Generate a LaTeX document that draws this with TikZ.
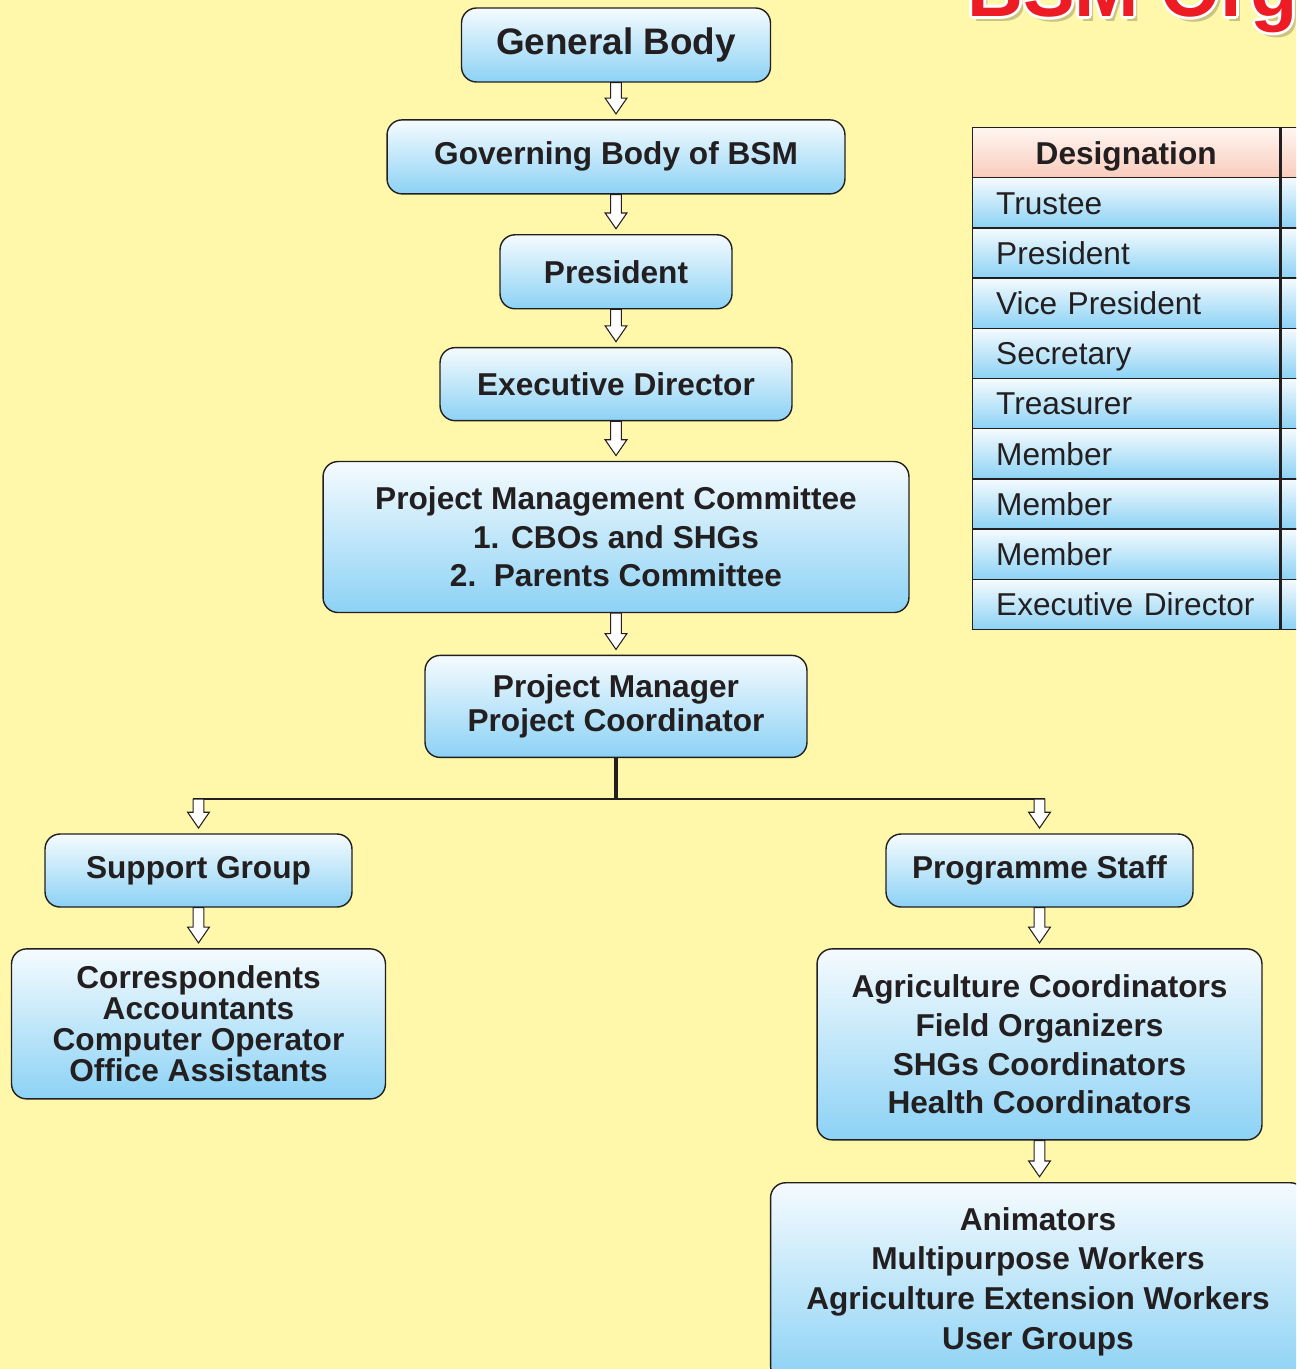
\documentclass[tikz,border=0pt]{standalone}
\usepackage{fontspec}
\setmainfont{Liberation Sans}
\usetikzlibrary{positioning, calc}
\definecolor{paper}{RGB}{255, 247, 170}
\definecolor{ink}{RGB}{35, 31, 32}
\definecolor{skytop}{RGB}{245, 251, 254}
\definecolor{skybot}{RGB}{140, 210, 245}
\definecolor{peachtop}{RGB}{255, 246, 241}
\definecolor{peachbot}{RGB}{249, 204, 188}
\definecolor{titlered}{RGB}{237, 28, 36}
\definecolor{titleshade}{RGB}{205, 195, 130}

% hollow block arrow from #1 down to just above #2
\newcommand{\hollowarrow}[2]{%
  \draw[harrow] let \p1=(#1), \p2=(#2) in
    (\x1-3.1pt,\y1) -- (\x1-3.1pt,\y2+12pt) -- (\x1-6.2pt,\y2+12pt)
    -- (\x1,\y2+3pt) -- (\x1+6.2pt,\y2+12pt) -- (\x1+3.1pt,\y2+12pt)
    -- (\x1+3.1pt,\y1) -- cycle;}

\begin{document}
\begin{tikzpicture}[
    x=0.02cm, y=-0.02cm,
    node distance=0.78cm,
    orgbox/.style={draw=ink, line width=0.8pt, rounded corners=0.3cm, top color=skytop, bottom color=skybot, text=ink, align=center, font=\fontsize{18}{22}\selectfont\bfseries, minimum height=1.48cm},
    cellbox/.style={draw=ink, line width=0.8pt, top color=skytop, bottom color=skybot, text=ink, minimum height=1.004cm, minimum width=6.14cm, text width=5.2cm, inner xsep=0.47cm, inner ysep=0pt, text height=12.9pt, text depth=0pt, align=left, font=\fontsize{18}{22}\selectfont},
    headbox/.style={cellbox, top color=peachtop, bottom color=peachbot, align=center, font=\fontsize{18}{22}\selectfont\bfseries, minimum height=1cm},
    titletext/.style={anchor=base west, inner sep=0pt, font=\fontsize{44}{44}\selectfont\bfseries},
    harrow/.style={draw=ink, fill=white, line width=0.6pt, line join=miter},
    trunk/.style={ink, line width=2.2pt},
    branch/.style={ink, line width=1.5pt}
]
    \path[use as bounding box] (0,0) rectangle (1296,1369);
    \clip (0,0) rectangle (1296,1369);
    \fill[paper] (0,0) rectangle (1296,1369);

    % title, cut off at the top
    \node[titletext, text=titleshade] (shadow) at (971,21) {BSM Orga};
    \foreach \dx/\dy [count=\k] in {3/0, -3/0, 0/3, 0/-3, 2/2, 2/-2, -2/2, -2/-2}
        \node[titletext, text=white] (halo\k) at (967+\dx,16+\dy) {BSM Orga};
    \node[titletext, text=titlered] (title) at (967,16) {BSM Orga};

    % main chain
    \node[orgbox, minimum width=6.18cm, font=\fontsize{21}{25}\selectfont\bfseries] (gb) at (616,45) {General Body};
    \node[orgbox, minimum width=9.16cm, below=0.73cm of gb] (gov) {Governing Body of BSM};
    \node[orgbox, minimum width=4.64cm, below=0.79cm of gov] (pres) {President};
    \node[orgbox, minimum width=7.04cm, minimum height=1.46cm, below=0.75cm of pres] (ed) {Executive Director};
    \node[orgbox, minimum width=11.72cm, minimum height=3.02cm, below=0.79cm of ed] (pmc) {Project Management Committee\\1. CBOs and SHGs\\2.\ \ Parents Committee};
    \node[orgbox, minimum width=7.64cm, minimum height=2.04cm, below=0.83cm of pmc, font=\fontsize{18}{19.8}\selectfont\bfseries] (pm) {Project Manager\\Project Coordinator};

    % two branches
    \node[orgbox, minimum width=6.14cm, minimum height=1.46cm] (sg) at (198.5,870.5) {Support Group};
    \node[orgbox, minimum width=7.48cm, minimum height=3cm, below=0.81cm of sg, font=\fontsize{18}{17.6}\selectfont\bfseries] (sl) {Correspondents\\Accountants\\Computer Operator\\Office Assistants};
    \node[orgbox, minimum width=6.14cm, minimum height=1.46cm] (ps) at (1039.5,870.5) {Programme Staff};
    \node[orgbox, minimum width=8.9cm, minimum height=3.82cm, below=0.81cm of ps] (ac) {Agriculture Coordinators\\Field Organizers\\SHGs Coordinators\\Health Coordinators};
    \node[orgbox, minimum width=10.7cm, minimum height=3.96cm, below=0.83cm of ac, xshift=-0.03cm, font=\fontsize{18}{22.7}\selectfont\bfseries] (an) {Animators\\Multipurpose Workers\\Agriculture Extension Workers\\User Groups};

    % table of designations
    \node[headbox, anchor=north west] (desig) at (972,127) {Designation};
    \node[headbox, anchor=north west] (desigb) at (desig.north east) {};
    \foreach \post [count=\i] in {Trustee, President, Vice President, Secretary, Treasurer, Member, Member, Member, Executive Director} {
        \node[cellbox, anchor=north west] (row\i) at (972,126.8+50.2*\i) {\post};
        \node[cellbox, anchor=north west] (rowb\i) at (row\i.north east) {};
    }

    % connectors
    \hollowarrow{gb.south}{gov.north}
    \hollowarrow{gov.south}{pres.north}
    \hollowarrow{pres.south}{ed.north}
    \hollowarrow{ed.south}{pmc.north}
    \hollowarrow{pmc.south}{pm.north}

    \coordinate (split) at ($(pm.south)+(0,41)$);
    \coordinate (leftdrop) at (sg.north |- split);
    \coordinate (rightdrop) at (ps.north |- split);
    \draw[trunk] (pm.south) -- (split);
    \draw[branch, shorten <=-3.1pt, shorten >=-3.1pt] (leftdrop) -- (rightdrop);
    \hollowarrow{leftdrop}{sg.north}
    \hollowarrow{rightdrop}{ps.north}

    \hollowarrow{sg.south}{sl.north}
    \hollowarrow{ps.south}{ac.north}
    \hollowarrow{ac.south}{an.north}
\end{tikzpicture}
\end{document}
